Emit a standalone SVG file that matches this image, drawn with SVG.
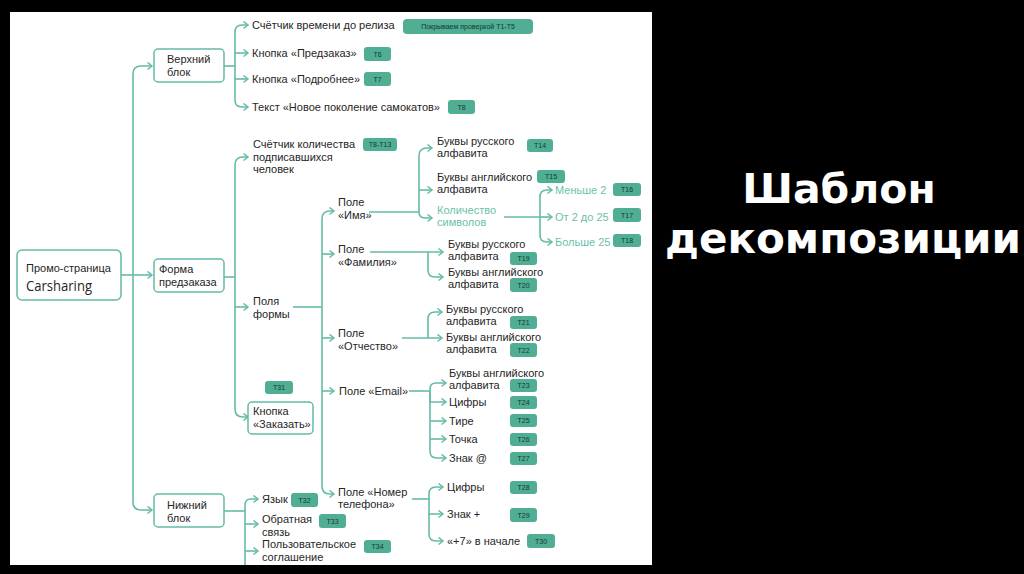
<svg xmlns="http://www.w3.org/2000/svg" width="1024" height="574" viewBox="0 0 1024 574">
<defs>
<style>
.t{font-family:"Liberation Sans",Arial,sans-serif;font-size:11px;fill:#262626}
.g{fill:#6cbfaa}
.box{fill:#fff;stroke:#66bba8;stroke-width:1.5}
.c{fill:none;stroke:#66bba8;stroke-width:1.6}
.b{fill:#50ae95}
.bt{font-family:"Liberation Sans",Arial,sans-serif;font-size:7px;fill:#123a2f;text-anchor:middle}
.ttl{font-family:"DejaVu Sans","Liberation Sans",sans-serif;font-weight:bold;fill:#fff;text-anchor:middle}
</style>
<marker id="a" markerWidth="8" markerHeight="9" refX="6" refY="4.5" orient="auto" markerUnits="userSpaceOnUse">
<path d="M1.5,1 L6,4.5 L1.5,8" fill="none" stroke="#66bba8" stroke-width="1.5"/>
</marker>
</defs>
<rect width="1024" height="574" fill="#000"/>
<rect x="10" y="12" width="642" height="553" fill="#fff"/>

<g id="connectors" class="c">
<path d="M121,275 H152" marker-end="url(#a)"/>
<path d="M133,275 V74 Q133,66 141,66 H152" marker-end="url(#a)"/>
<path d="M133,275 V502 Q133,510 141,510 H152" marker-end="url(#a)"/>

<path d="M224,66 H235"/>
<path d="M235,66 V32 Q235,25 242,25 H248" marker-end="url(#a)"/>
<path d="M235,53 H248" marker-end="url(#a)"/>
<path d="M235,79 H248" marker-end="url(#a)"/>
<path d="M235,66 V100 Q235,107 242,107 H248" marker-end="url(#a)"/>

<path d="M224,277 H235"/>
<path d="M235,277 V165 Q235,157 243,157 H248" marker-end="url(#a)"/>
<path d="M235,307 H248" marker-end="url(#a)"/>
<path d="M235,277 V409 Q235,417 243,417 H248" marker-end="url(#a)"/>

<path d="M293,307 H322"/>
<path d="M322,307 V219 Q322,211 330,211 H334" marker-end="url(#a)"/>
<path d="M322,254 H334" marker-end="url(#a)"/>
<path d="M322,338 H334" marker-end="url(#a)"/>
<path d="M322,391 H334" marker-end="url(#a)"/>
<path d="M322,307 V486 Q322,494 330,494 H334" marker-end="url(#a)"/>

<path d="M369,212 H419"/>
<path d="M419,212 V156 Q419,148 427,148 H432" marker-end="url(#a)"/>
<path d="M419,190 H432" marker-end="url(#a)"/>
<path d="M419,212 Q419,218 425,218 H432" marker-end="url(#a)"/>

<path d="M504,217 H540"/>
<path d="M540,217 V197 Q540,190 547,190 H552" marker-end="url(#a)"/>
<path d="M540,217 H552" marker-end="url(#a)"/>
<path d="M540,217 V235 Q540,242 547,242 H552" marker-end="url(#a)"/>

<path d="M370,252 H443" marker-end="url(#a)"/>
<path d="M428,252 V270 Q428,277 435,277 H443" marker-end="url(#a)"/>

<path d="M402,338 H442" marker-end="url(#a)"/>
<path d="M428,338 V319 Q428,312 435,312 H442" marker-end="url(#a)"/>

<path d="M409,391 H430"/>
<path d="M430,391 V389 Q430,383 436,383 H446" marker-end="url(#a)"/>
<path d="M430,391 V402 H446" marker-end="url(#a)"/>
<path d="M430,421 H446" marker-end="url(#a)"/>
<path d="M430,439 H446" marker-end="url(#a)"/>
<path d="M430,391 V451 Q430,458 437,458 H446" marker-end="url(#a)"/>

<path d="M412,499 H429"/>
<path d="M429,499 V494 Q429,487 436,487 H443" marker-end="url(#a)"/>
<path d="M429,499 V514 H443" marker-end="url(#a)"/>
<path d="M429,514 V534 Q429,541 436,541 H443" marker-end="url(#a)"/>

<path d="M224,511 H245"/>
<path d="M245,511 V505 Q245,499 251,499 H258" marker-end="url(#a)"/>
<path d="M245,524 H258" marker-end="url(#a)"/>
<path d="M245,551 H258" marker-end="url(#a)"/>
<path d="M245,511 V565"/>
</g>

<g id="root">
<rect class="box" x="17" y="250" width="104" height="50" rx="5"/>
<text class="t" x="26" y="272" font-size="11.5">Промо-страница</text>
<text x="26" y="291" font-family="'Open Sans',sans-serif" font-size="14" fill="#262626" textLength="66" lengthAdjust="spacingAndGlyphs">Carsharing</text>
</g>

<g id="top-block">
<rect class="box" x="154" y="49" width="70" height="33" rx="4"/>
<text class="t" x="167" y="63">Верхний</text>
<text class="t" x="167" y="76">блок</text>
</g>
<g id="timer"><text class="t" x="252" y="29">Счётчик времени до релиза</text>
<rect class="b" x="403" y="19" width="130" height="15" rx="4"/><text class="bt" x="468" y="29">Покрываем проверкой Т1-Т5</text></g>
<g id="btn-preorder"><text class="t" x="252" y="57">Кнопка «Предзаказ»</text>
<rect class="b" x="364" y="47" width="27" height="14" rx="3"/><text class="bt" x="377.5" y="56.5">T6</text></g>
<g id="btn-more"><text class="t" x="252" y="83">Кнопка «Подробнее»</text>
<rect class="b" x="364" y="72" width="27" height="14" rx="3"/><text class="bt" x="377.5" y="81.5">T7</text></g>
<g id="text-new"><text class="t" x="252" y="111">Текст «Новое поколение самокатов»</text>
<rect class="b" x="448" y="100" width="27" height="14" rx="3"/><text class="bt" x="461.5" y="109.5">T8</text></g>

<g id="form-block">
<rect class="box" x="154" y="259" width="70" height="33" rx="4"/>
<text class="t" x="159" y="273">Форма</text>
<text class="t" x="159" y="286">предзаказа</text>
</g>
<g id="counter"><text class="t" x="253" y="148">Счётчик количества</text>
<text class="t" x="253" y="161">подписавшихся</text>
<text class="t" x="253" y="173">человек</text>
<rect class="b" x="363" y="138" width="34" height="13" rx="3"/><text class="bt" x="380" y="147">T8-T13</text></g>
<g id="fields"><text class="t" x="253" y="305">Поля</text><text class="t" x="253" y="318">формы</text></g>
<g id="btn-order">
<rect class="b" x="265" y="381" width="28" height="13" rx="3"/><text class="bt" x="279" y="390">T31</text>
<rect class="box" x="248" y="402" width="65" height="32" rx="4"/>
<text class="t" x="253" y="415">Кнопка</text>
<text class="t" x="253" y="428">«Заказать»</text>
</g>

<g id="f-name"><text class="t" x="338" y="206">Поле</text><text class="t" x="338" y="219">«Имя»</text></g>
<g id="name-ru"><text class="t" x="437" y="145">Буквы русского</text><text class="t" x="437" y="157">алфавита</text>
<rect class="b" x="527" y="139" width="26" height="13" rx="3"/><text class="bt" x="540" y="148">T14</text></g>
<g id="name-en"><text class="t" x="437" y="181">Буквы английского</text><text class="t" x="437" y="193">алфавита</text>
<rect class="b" x="537" y="170" width="28" height="13" rx="3"/><text class="bt" x="551" y="179">T15</text></g>
<g id="name-count"><text class="t g" x="437" y="214">Количество</text><text class="t g" x="437" y="226">символов</text></g>
<g id="lt2"><text class="t g" x="555" y="194" font-size="11.5">Меньше 2</text>
<rect class="b" x="613" y="183" width="28" height="13" rx="3"/><text class="bt" x="627" y="192">T16</text></g>
<g id="r2-25"><text class="t g" x="555" y="221" font-size="11.5">От 2 до 25</text>
<rect class="b" x="613" y="208" width="28" height="14" rx="3"/><text class="bt" x="627" y="217.5">T17</text></g>
<g id="gt25"><text class="t g" x="555" y="246" font-size="11.5">Больше 25</text>
<rect class="b" x="613" y="234" width="28" height="13" rx="3"/><text class="bt" x="627" y="243">T18</text></g>

<g id="f-surname"><text class="t" x="338" y="253">Поле</text><text class="t" x="338" y="266">«Фамилия»</text></g>
<g id="sur-ru"><text class="t" x="448" y="248">Буквы русского</text><text class="t" x="448" y="260">алфавита</text>
<rect class="b" x="510" y="252" width="27" height="13" rx="3"/><text class="bt" x="523.5" y="261">T19</text></g>
<g id="sur-en"><text class="t" x="448" y="276">Буквы английского</text><text class="t" x="448" y="288">алфавита</text>
<rect class="b" x="510" y="278" width="27" height="14" rx="3"/><text class="bt" x="523.5" y="287.5">T20</text></g>

<g id="f-patronymic"><text class="t" x="338" y="337">Поле</text><text class="t" x="338" y="350">«Отчество»</text></g>
<g id="pat-ru"><text class="t" x="446" y="313">Буквы русского</text><text class="t" x="446" y="325">алфавита</text>
<rect class="b" x="510" y="316" width="27" height="13" rx="3"/><text class="bt" x="523.5" y="325">T21</text></g>
<g id="pat-en"><text class="t" x="446" y="341">Буквы английского</text><text class="t" x="446" y="353">алфавита</text>
<rect class="b" x="510" y="343" width="27" height="14" rx="3"/><text class="bt" x="523.5" y="352.5">T22</text></g>

<g id="f-email"><text class="t" x="339" y="395">Поле «Email»</text></g>
<g id="em-en"><text class="t" x="449" y="377">Буквы английского</text><text class="t" x="449" y="389">алфавита</text>
<rect class="b" x="510" y="379" width="27" height="13" rx="3"/><text class="bt" x="523.5" y="388">T23</text></g>
<g id="em-dig"><text class="t" x="449" y="406">Цифры</text>
<rect class="b" x="510" y="396" width="27" height="13" rx="3"/><text class="bt" x="523.5" y="405">T24</text></g>
<g id="em-dash"><text class="t" x="449" y="425">Тире</text>
<rect class="b" x="510" y="414" width="27" height="13" rx="3"/><text class="bt" x="523.5" y="423">T25</text></g>
<g id="em-dot"><text class="t" x="449" y="443">Точка</text>
<rect class="b" x="510" y="433" width="27" height="13" rx="3"/><text class="bt" x="523.5" y="442">T26</text></g>
<g id="em-at"><text class="t" x="449" y="462">Знак @</text>
<rect class="b" x="510" y="452" width="27" height="13" rx="3"/><text class="bt" x="523.5" y="461">T27</text></g>

<g id="f-phone"><text class="t" x="338" y="496">Поле «Номер</text><text class="t" x="338" y="508">телефона»</text></g>
<g id="ph-dig"><text class="t" x="447" y="491">Цифры</text>
<rect class="b" x="510" y="481" width="27" height="13" rx="3"/><text class="bt" x="523.5" y="490">T28</text></g>
<g id="ph-plus"><text class="t" x="447" y="518">Знак +</text>
<rect class="b" x="510" y="508" width="27" height="14" rx="3"/><text class="bt" x="523.5" y="517.5">T29</text></g>
<g id="ph-7"><text class="t" x="447" y="545">«+7» в начале</text>
<rect class="b" x="527" y="534" width="28" height="14" rx="3"/><text class="bt" x="541" y="543.5">T30</text></g>

<g id="bottom-block">
<rect class="box" x="154" y="494" width="70" height="33" rx="4"/>
<text class="t" x="167" y="509">Нижний</text>
<text class="t" x="167" y="522">блок</text>
</g>
<g id="lang"><text class="t" x="262" y="503">Язык</text>
<rect class="b" x="291" y="493" width="27" height="14" rx="3"/><text class="bt" x="304.5" y="502.5">T32</text></g>
<g id="feedback"><text class="t" x="262" y="523">Обратная</text><text class="t" x="262" y="536">связь</text>
<rect class="b" x="319" y="514" width="27" height="14" rx="3"/><text class="bt" x="332.5" y="523.5">T33</text></g>
<g id="agreement"><text class="t" x="262" y="548">Пользовательское</text><text class="t" x="262" y="561">соглашение</text>
<rect class="b" x="364" y="540" width="27" height="13" rx="3"/><text class="bt" x="377.5" y="549">T34</text></g>

<g id="title">
<text class="ttl" x="839" y="203" font-size="41">Шаблон</text>
<text class="ttl" x="843" y="253" font-size="42">декомпозиции</text>
</g>
</svg>
